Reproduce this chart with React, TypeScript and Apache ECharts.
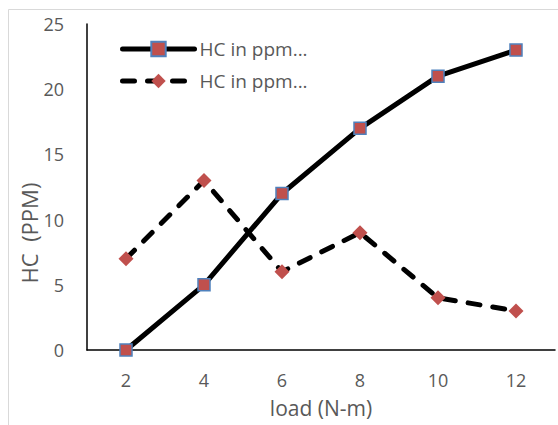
import React, { useEffect, useRef } from "react";
import * as echarts from "echarts";

const categories = ["2", "4", "6", "8", "10", "12"];
const series1Values = [0, 5, 12, 17, 21, 23];
const series2Values = [7, 13, 6, 9, 4, 3];
const seriesNames = ["HC in ppm...", "HC in ppm... "];
const yTicks = { min: 0, max: 25, interval: 5 };
const xTitle = "load (N-m)";
const yTitle = "HC  (PPM)";

export default function App() {
  const ref = useRef<HTMLDivElement>(null);
  useEffect(() => {
    if (!ref.current) return;
    const chart = echarts.init(ref.current, undefined, { renderer: "svg" });
    const font = "'Open Sans', 'Noto Sans', sans-serif";
    const grey = "#595959";
    chart.setOption({
      animation: false,
      backgroundColor: "#ffffff",
      textStyle: { fontFamily: font },
      graphic: [
        {
          type: "rect",
          shape: { x: 8.5, y: 9.5, width: 600, height: 500 },
          style: { fill: "none", stroke: "#d9d9d9", lineWidth: 1 },
          silent: true,
        },
        {
          type: "text",
          x: 29,
          y: 233,
          rotation: Math.PI / 2,
          style: {
            text: yTitle,
            fill: grey,
            fontSize: 22,
            fontFamily: font,
            align: "center",
            verticalAlign: "middle",
          },
          silent: true,
        },
      ],
      legend: {
        left: 120,
        top: 39,
        padding: 0,
        orient: "vertical",
        itemWidth: 72,
        itemHeight: 18,
        itemGap: 12,
        lineStyle: { width: 5 },
        textStyle: {
          color: grey,
          fontSize: 19,
          lineHeight: 20,
          fontFamily: font,
        },
        data: seriesNames,
      },
      grid: { left: 87, right: 3, top: 24, bottom: 75, containLabel: false },
      xAxis: {
        type: "category",
        data: categories,
        boundaryGap: true,
        name: xTitle,
        nameLocation: "middle",
        nameGap: 47,
        nameTextStyle: { color: grey, fontSize: 21, fontFamily: font },
        axisLine: { lineStyle: { color: "#000000", width: 1.5 } },
        axisTick: { show: false },
        axisLabel: { color: grey, fontSize: 18, margin: 21, fontFamily: font },
        splitLine: { show: false },
      },
      yAxis: {
        type: "value",
        min: yTicks.min,
        max: yTicks.max,
        interval: yTicks.interval,
        axisLine: { show: true, lineStyle: { color: "#000000", width: 1.5 } },
        axisTick: { show: false },
        axisLabel: { color: grey, fontSize: 18, margin: 23, fontFamily: font },
        splitLine: { show: false },
      },
      series: [
        {
          name: seriesNames[0],
          type: "line",
          data: series1Values,
          symbol: "rect",
          symbolSize: 12,
          lineStyle: { color: "#000000", width: 5, cap: "round" },
          itemStyle: { color: "#C0504D", borderColor: "#4F81BD", borderWidth: 1.5 },
          z: 3,
        },
        {
          name: seriesNames[1],
          type: "line",
          data: series2Values,
          symbol: "diamond",
          symbolSize: 15,
          lineStyle: { color: "#000000", width: 5, type: [12, 13], cap: "round" },
          itemStyle: { color: "#C0504D", borderWidth: 0 },
          z: 2,
        },
      ],
    });
    return () => chart.dispose();
  }, []);
  return (
    <div
      ref={ref}
      style={{ position: "fixed", left: 0, top: 0, width: 558, height: 425 }}
    />
  );
}
